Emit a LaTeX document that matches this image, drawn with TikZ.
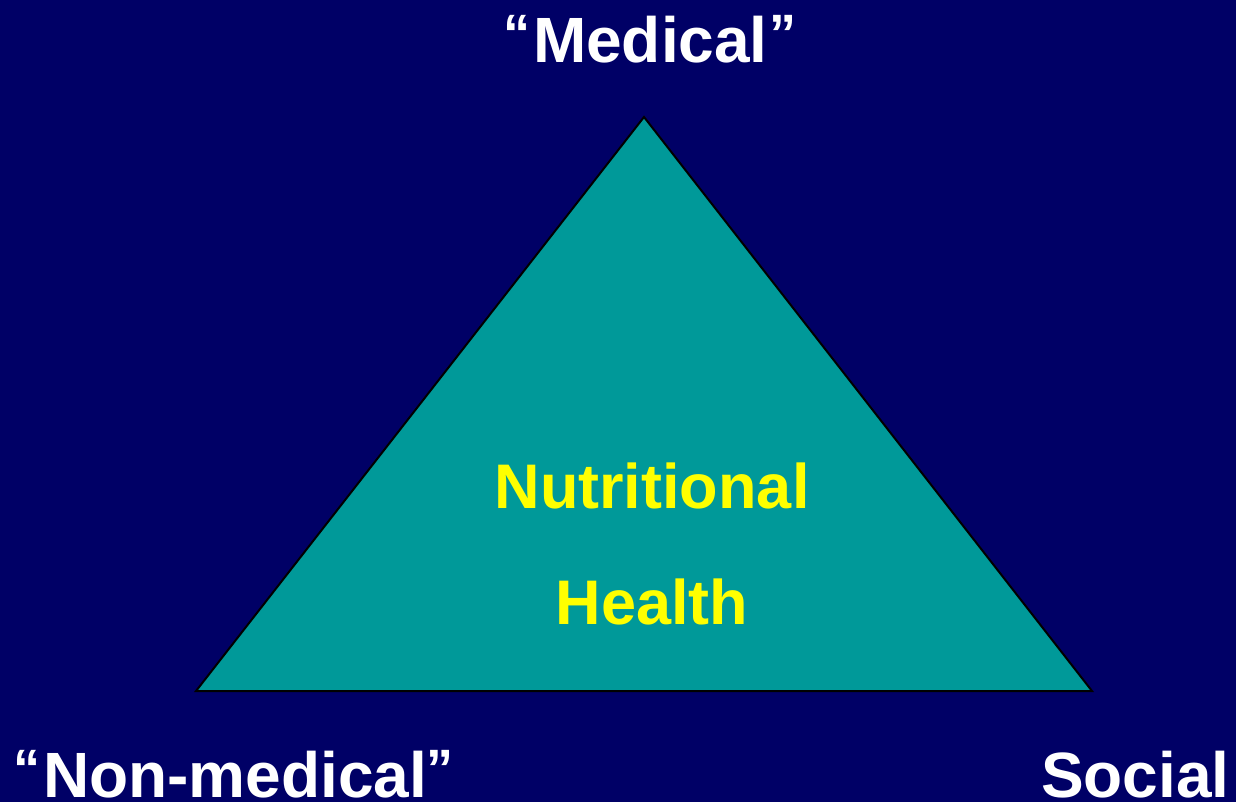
\documentclass[tikz,border=0pt]{standalone}
\usepackage{fontspec}
\setmainfont{Liberation Sans}
\definecolor{bgnavy}{HTML}{000066}
\definecolor{tealfill}{HTML}{009999}
\definecolor{txtyellow}{HTML}{FFFF00}
\tikzset{
  lbl/.style={inner sep=0pt, outer sep=0pt, text=white, font=\fontsize{64}{64}\selectfont\bfseries, anchor=base west},
  ctr/.style={inner sep=0pt, outer sep=0pt, text=txtyellow, font=\fontsize{63}{63}\selectfont\bfseries, anchor=base},
  qt/.style={inner sep=0pt, outer sep=0pt, text=white, font=\fontsize{54}{54}\selectfont\bfseries, anchor=base west},
}
\begin{document}
\begin{tikzpicture}[x=1pt,y=-1pt]
\fill[bgnavy] (0,0) rectangle (1236,802);
\useasboundingbox (0,0) rectangle (1236,802);
\coordinate (top) at (644,117);
\coordinate (bl) at (196,691);
\coordinate (br) at (1092,691);
\draw[fill=tealfill, draw=black, line width=2pt, line join=miter] (top) -- (br) -- (bl) -- cycle;
\node[ctr] (nut) at (652,508) {Nutritional};
\node[ctr] (hea) at (652,624) {Health};
\node[lbl] (med) at (533,63) {Medical};
\node[qt] (medq1) at (503,53) {“};
\node[qt] (medq2) at (769,53) {”};
\node[lbl] (non) at (43,797) {Non-medical};
\node[qt] (nonq1) at (13,787) {“};
\node[qt] (nonq2) at (426,787) {”};
\node[lbl] (soc) at (1041,797) {Social};
\end{tikzpicture}
\end{document}
